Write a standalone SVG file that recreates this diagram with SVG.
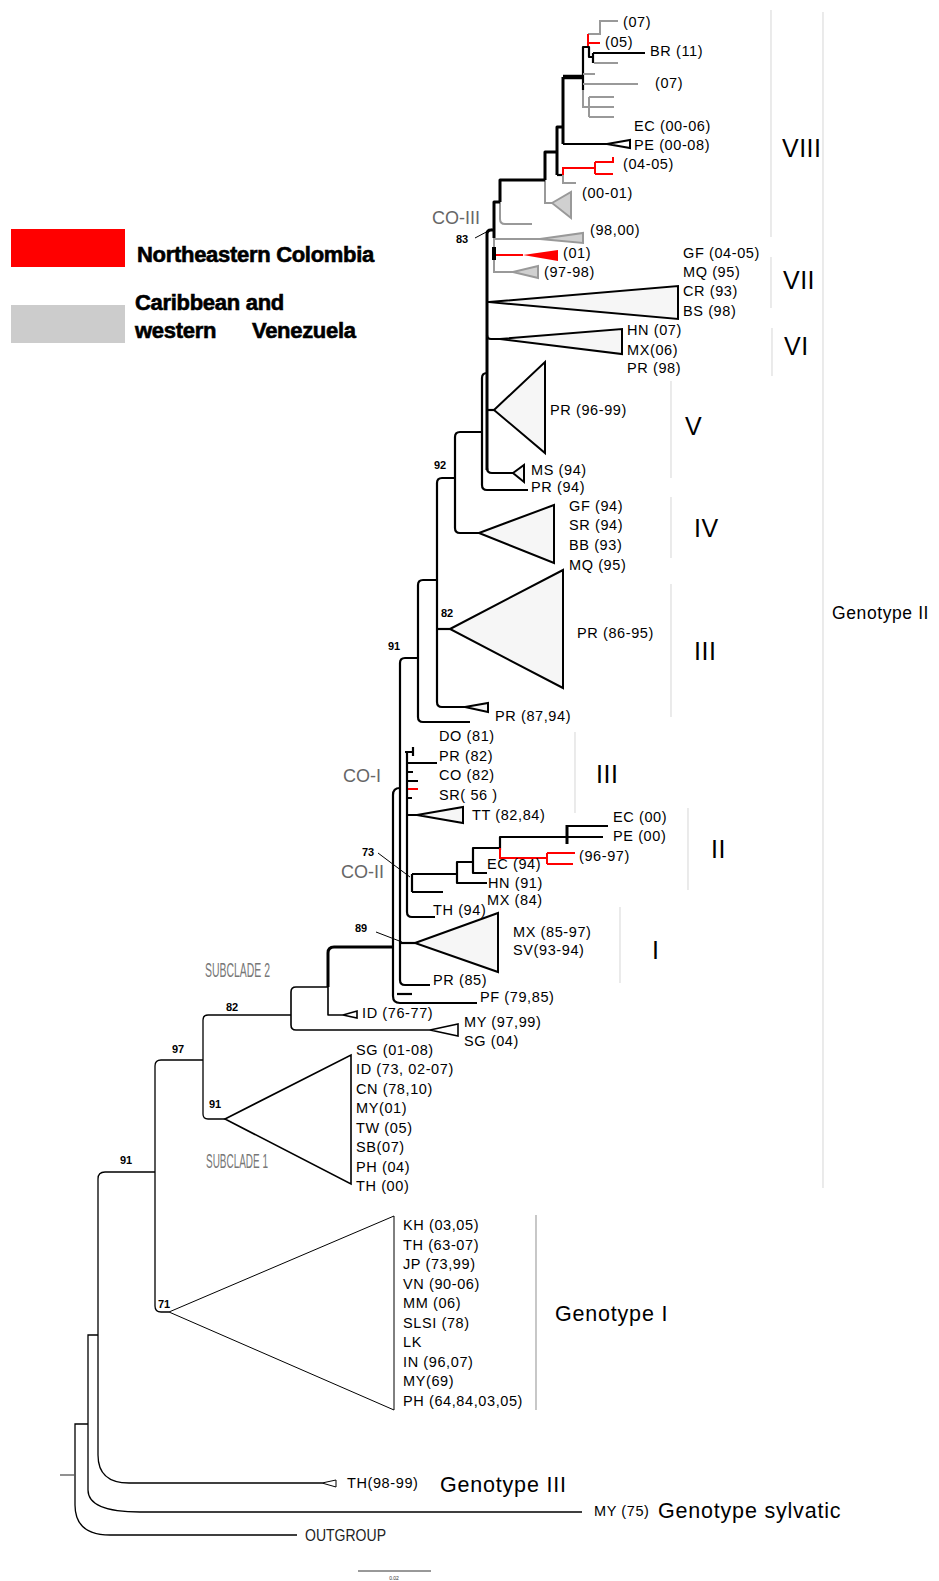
<svg xmlns="http://www.w3.org/2000/svg" width="939" height="1581" viewBox="0 0 939 1581">
<style>
text{font-family:"Liberation Sans",Arial,sans-serif;fill:#000}
.l{font-size:14.5px;letter-spacing:0.6px}
.bs{font-size:11px;font-weight:bold}
.rn{font-size:25px;letter-spacing:0.5px}
.gt{font-size:21.5px;letter-spacing:0.8px}
.co{font-size:18px;fill:#666}
.sc{font-size:20px;fill:#777}
.lg{font-size:22px;font-weight:bold;stroke:#000;stroke-width:0.6;letter-spacing:-0.3px}
.b{fill:none;stroke:#000;stroke-width:2.2;stroke-linejoin:round}
.bt{fill:none;stroke:#000;stroke-width:3;stroke-linejoin:round}
.bn{fill:none;stroke:#000;stroke-width:1.3}
.g{fill:none;stroke:#999;stroke-width:2}
.r{fill:none;stroke:#f00;stroke-width:2}
.tb{fill:#f6f6f6;stroke:#000;stroke-width:2;stroke-linejoin:miter}
.tg{fill:#d0d0d0;stroke:#999;stroke-width:2}
.tw{fill:#fff;stroke:#000;stroke-width:1.3}
.sep{stroke:#ddd;stroke-width:1.2}
.ln{stroke:#000;stroke-width:1}
</style>

<g id="legend">
<rect x="11" y="229" width="114" height="38" fill="#f00"/>
<text class="lg" x="137" y="262">Northeastern Colombia</text>
<rect x="11" y="305" width="114" height="38" fill="#ccc"/>
<text class="lg" x="135" y="310">Caribbean and</text>
<text class="lg" x="135" y="338">western</text>
<text class="lg" x="252" y="338">Venezuela</text>
</g>

<g id="connectors">
<!-- CO-III top subtree -->
<path class="g" d="M618 21 H600 V34 H588"/>
<path class="r" d="M588 34 V47 M588 43 H600"/>
<path class="b" d="M583 90 V47 H589 V57 H593"/>
<path class="b" d="M593 53 H645 M593 53 V63"/>
<path class="g" d="M594 63 H618 M583 74 H595 M583 84 H638"/>
<path class="g" d="M583 90 V107 H589 M589 97 V117 M589 97 H614 M589 107 H614 M589 117 H614"/>
<path d="M563 77 H583" stroke="#000" stroke-width="4.5"/>
<path class="bt" d="M563 144 V77"/>
<path class="b" d="M563 144 H607"/>
<polygon class="tw" points="607,144 630,140 630,148" style="stroke-width:2"/>
<path class="bt" d="M557 175 V127 H563"/>
<path class="b" d="M557 175 H563"/>
<path class="r" d="M563 175 V168 H595 M595 162 V174 M595 162 H613 M595 174 H613 M613 157 V163"/>
<path class="g" d="M563 175 V183 H576"/>
<path class="bt" d="M545 180 V152 H557"/>
<path class="g" d="M545 180 V203 H552"/>
<polygon class="tg" points="552,203 571,192 571,218"/>
<path class="bt" d="M500 202 V180 H545"/>
<path class="g" d="M500 202 V219 Q500 224 505 224 H532"/>
<path class="bt" d="M494 238 V202 H500"/>
<path class="g" d="M494 238 V272 H513 M494 239 H540"/>
<polygon class="tg" points="540,239 583,233 583,243"/>
<path d="M494 247 V260" stroke="#000" stroke-width="4"/>
<path class="r" d="M496 255 H523"/>
<polygon points="523,255 558,250 558,261" fill="#f00"/>
<polygon class="tg" points="513,272 538,266 538,278"/>
<path class="bt" d="M487 470 V234 Q487 230 491 230 H494"/>
<line class="ln" x1="475" y1="238" x2="492" y2="229"/>
<!-- VII, VI -->
<path class="b" d="M487 302 H489"/>
<polygon class="tb" points="489,302 678,286 678,319"/>
<path class="b" d="M487 335 Q487 339 491 339 H500"/>
<polygon class="tb" points="500,339 622,329 622,354"/>
<!-- V -->
<path class="b" d="M487 410 H494"/>
<polygon class="tb" points="494,410 545,362 545,453"/>
<path class="b" d="M487 468 Q487 473 492 473 H513"/>
<polygon class="tb" points="513,473 524,465 524,482"/>
<path class="b" d="M487 373 Q482 373 482 378 V485 Q482 490 487 490 H528"/>
<!-- 92 / IV -->
<path class="b" d="M482 432 H460 Q455 432 455 437 V528 Q455 533 460 533 H479"/>
<polygon class="tb" points="479,533 554,505 554,563"/>
<!-- 82 / III -->
<path class="b" d="M455 478 H442 Q437 478 437 483 V702 Q437 707 442 707 H465"/>
<path class="b" d="M437 629 H450"/>
<polygon class="tb" points="450,629 563,570 563,688"/>
<polygon class="tb" points="465,707 488,703 488,712"/>
<!-- 91 -->
<path class="b" d="M437 580 H423 Q418 580 418 585 V717 Q418 722 423 722 H470"/>
<path class="b" d="M418 658 H405 Q400 658 400 663 V980 Q400 985 405 985 H430"/>
<!-- CO-I -->
<path class="b" d="M400 788 Q393 788 393 795 V996 Q393 1003 400 1003 H477"/>
<path class="b" d="M397 994 H412"/>
<path class="b" d="M405 752 H413 M413 747 V756"/>
<path class="b" d="M407 752 V912 Q407 917 412 917 H435"/>
<path class="b" d="M407 763 H437 M407 772 H413 M407 781 H418 M407 798 H412 M407 815 H417"/>
<path class="r" d="M408 789 H418"/>
<polygon class="tb" points="417,815 463,807 463,823"/>
<!-- CO-II -->
<path class="b" d="M412 874 V892 M412 874 H457 M412 892 H443"/>
<path class="b" d="M473 862 H457 V883 H487"/>
<path class="b" d="M500 848 H473 V873 H487"/>
<path class="b" d="M500 850 V837 H567"/>
<path class="r" d="M500 848 V858 H547 M547 853 V864 M547 853 H575 M547 864 H573"/>
<path class="bt" d="M567 825 V844"/>
<path class="b" d="M567 826 H608 M567 837 H603"/>
<line class="ln" x1="378" y1="853" x2="410" y2="877"/>
<!-- 89 / I -->
<path class="b" d="M400 943 H415"/>
<polygon class="tb" points="415,943 498,913 498,972"/>
<line class="ln" x1="376" y1="932" x2="402" y2="942"/>
<!-- subclade 2 -->
<path class="bt" d="M393 947 H334 Q328 947 328 953 V987"/>
<path class="b" d="M328 987 V1015 H343" style="stroke-width:1.6"/>
<polygon class="tw" points="343,1015 357,1011 357,1018" style="stroke-width:1.6"/>
<path class="b" d="M328 987 H296 Q291 987 291 992 V1025 Q291 1030 296 1030 H430" style="stroke-width:1.6"/>
<polygon class="tw" points="430,1030 458,1024 458,1036" style="stroke-width:1.6"/>
<path class="bn" d="M291 1015 H208 Q203 1015 203 1020 V1114 Q203 1119 208 1119 H225"/>
<polygon class="tw" points="225,1119 351,1055 351,1184" style="stroke-width:1.6"/>
<!-- 97 / genotype I -->
<path class="bn" d="M203 1060 H161 Q155 1060 155 1066 V1306 Q155 1312 161 1312 H169"/>
<polygon class="tw" points="169,1312 394,1216 394,1410" style="stroke-width:1"/>
<!-- basal -->
<path class="bn" d="M155 1172 H105 Q98 1172 98 1179 V1455 Q98 1483 129 1483 H322"/>
<polygon class="tw" points="322,1483 336,1480 336,1487" style="stroke-width:1"/>
<path class="bn" d="M98 1335 H88 V1490 Q88 1512 140 1512 H582"/>
<path class="bn" d="M88 1424 H75 V1505 Q75 1535 110 1535 H297"/>
<path d="M60 1475 H75" stroke="#555" stroke-width="1.3"/>
<!-- scale bar -->
<path d="M358 1571 H431" stroke="#333" stroke-width="1"/>
</g>

<g id="separators">
<line class="sep" x1="771" y1="10" x2="771" y2="237"/>
<line class="sep" x1="771" y1="257" x2="771" y2="308"/>
<line class="sep" x1="772" y1="328" x2="772" y2="376"/>
<line class="sep" x1="671" y1="381" x2="671" y2="478"/>
<line class="sep" x1="671" y1="497" x2="671" y2="558"/>
<line class="sep" x1="671" y1="584" x2="671" y2="717"/>
<line class="sep" x1="575" y1="732" x2="575" y2="813"/>
<line class="sep" x1="688" y1="808" x2="688" y2="890"/>
<line class="sep" x1="620" y1="907" x2="620" y2="983"/>
<line class="sep" x1="823" y1="12" x2="823" y2="1188"/>
<line x1="536" y1="1215" x2="536" y2="1410" stroke="#aaa" stroke-width="1.3"/>
</g>

<g id="clade-labels">
<text class="rn" x="782" y="157">VIII</text>
<text class="rn" x="783" y="289">VII</text>
<text class="rn" x="784" y="355">VI</text>
<text class="rn" x="685" y="435">V</text>
<text class="rn" x="694" y="537">IV</text>
<text class="rn" x="694" y="660">III</text>
<text class="rn" x="596" y="783">III</text>
<text class="rn" x="711" y="858">II</text>
<text class="rn" x="652" y="959">I</text>
<text x="832" y="619" style="font-size:17.5px;letter-spacing:0.6px">Genotype II</text>
<text class="gt" x="555" y="1321">Genotype I</text>
<text class="gt" x="440" y="1492">Genotype III</text>
<text class="gt" x="658" y="1518">Genotype sylvatic</text>
<text class="co" x="432" y="224">CO-III</text>
<text class="co" x="343" y="782">CO-I</text>
<text class="co" x="341" y="878">CO-II</text>
<text class="sc" x="205" y="977" textLength="65" lengthAdjust="spacingAndGlyphs">SUBCLADE 2</text>
<text class="sc" x="206" y="1168" textLength="62" lengthAdjust="spacingAndGlyphs">SUBCLADE 1</text>
<text x="305" y="1541" textLength="81" lengthAdjust="spacingAndGlyphs" style="font-size:17px;fill:#222">OUTGROUP</text>
<text x="394" y="1580" text-anchor="middle" style="font-size:5px;fill:#333">0.02</text>
</g>

<g id="bootstrap">
<text class="bs" x="456" y="243">83</text>
<text class="bs" x="434" y="469">92</text>
<text class="bs" x="441" y="617">82</text>
<text class="bs" x="388" y="650">91</text>
<text class="bs" x="362" y="856">73</text>
<text class="bs" x="355" y="932">89</text>
<text class="bs" x="226" y="1011">82</text>
<text class="bs" x="172" y="1053">97</text>
<text class="bs" x="209" y="1108">91</text>
<text class="bs" x="120" y="1164">91</text>
<text class="bs" x="158" y="1308">71</text>
</g>

<g id="leaf-labels">
<text class="l" x="623" y="27">(07)</text>
<text class="l" x="605" y="47">(05)</text>
<text class="l" x="650" y="56">BR (11)</text>
<text class="l" x="655" y="88">(07)</text>
<text class="l" x="634" y="131">EC (00-06)</text>
<text class="l" x="634" y="150">PE (00-08)</text>
<text class="l" x="623" y="169">(04-05)</text>
<text class="l" x="582" y="198">(00-01)</text>
<text class="l" x="590" y="235">(98,00)</text>
<text class="l" x="563" y="258">(01)</text>
<text class="l" x="544" y="277">(97-98)</text>
<text class="l" x="683" y="258">GF (04-05)</text>
<text class="l" x="683" y="277">MQ (95)</text>
<text class="l" x="683" y="296">CR (93)</text>
<text class="l" x="683" y="316">BS (98)</text>
<text class="l" x="627" y="335">HN (07)</text>
<text class="l" x="627" y="355">MX(06)</text>
<text class="l" x="627" y="373">PR (98)</text>
<text class="l" x="550" y="415">PR (96-99)</text>
<text class="l" x="531" y="475">MS (94)</text>
<text class="l" x="531" y="492">PR (94)</text>
<text class="l" x="569" y="511">GF (94)</text>
<text class="l" x="569" y="530">SR (94)</text>
<text class="l" x="569" y="550">BB (93)</text>
<text class="l" x="569" y="570">MQ (95)</text>
<text class="l" x="577" y="638">PR (86-95)</text>
<text class="l" x="495" y="721">PR (87,94)</text>
<text class="l" x="439" y="741">DO (81)</text>
<text class="l" x="439" y="761">PR (82)</text>
<text class="l" x="439" y="780">CO (82)</text>
<text class="l" x="439" y="800">SR( 56 )</text>
<text class="l" x="472" y="820">TT (82,84)</text>
<text class="l" x="613" y="822">EC (00)</text>
<text class="l" x="613" y="841">PE (00)</text>
<text class="l" x="579" y="861">(96-97)</text>
<text class="l" x="487" y="869">EC (94)</text>
<text class="l" x="488" y="888">HN (91)</text>
<text class="l" x="487" y="905">MX (84)</text>
<text class="l" x="433" y="915">TH (94)</text>
<text class="l" x="513" y="937">MX (85-97)</text>
<text class="l" x="513" y="955">SV(93-94)</text>
<text class="l" x="433" y="985">PR (85)</text>
<text class="l" x="480" y="1002">PF (79,85)</text>
<text class="l" x="362" y="1018">ID (76-77)</text>
<text class="l" x="464" y="1027">MY (97,99)</text>
<text class="l" x="464" y="1046">SG (04)</text>
<text class="l" x="356" y="1055">SG (01-08)</text>
<text class="l" x="356" y="1074">ID (73, 02-07)</text>
<text class="l" x="356" y="1094">CN (78,10)</text>
<text class="l" x="356" y="1113">MY(01)</text>
<text class="l" x="356" y="1133">TW (05)</text>
<text class="l" x="356" y="1152">SB(07)</text>
<text class="l" x="356" y="1172">PH (04)</text>
<text class="l" x="356" y="1191">TH (00)</text>
<text class="l" x="403" y="1230">KH (03,05)</text>
<text class="l" x="403" y="1250">TH (63-07)</text>
<text class="l" x="403" y="1269">JP (73,99)</text>
<text class="l" x="403" y="1289">VN (90-06)</text>
<text class="l" x="403" y="1308">MM (06)</text>
<text class="l" x="403" y="1328">SLSI (78)</text>
<text class="l" x="403" y="1347">LK</text>
<text class="l" x="403" y="1367">IN (96,07)</text>
<text class="l" x="403" y="1386">MY(69)</text>
<text class="l" x="403" y="1406">PH (64,84,03,05)</text>
<text class="l" x="347" y="1488">TH(98-99)</text>
<text class="l" x="594" y="1516">MY (75)</text>
</g>
</svg>
